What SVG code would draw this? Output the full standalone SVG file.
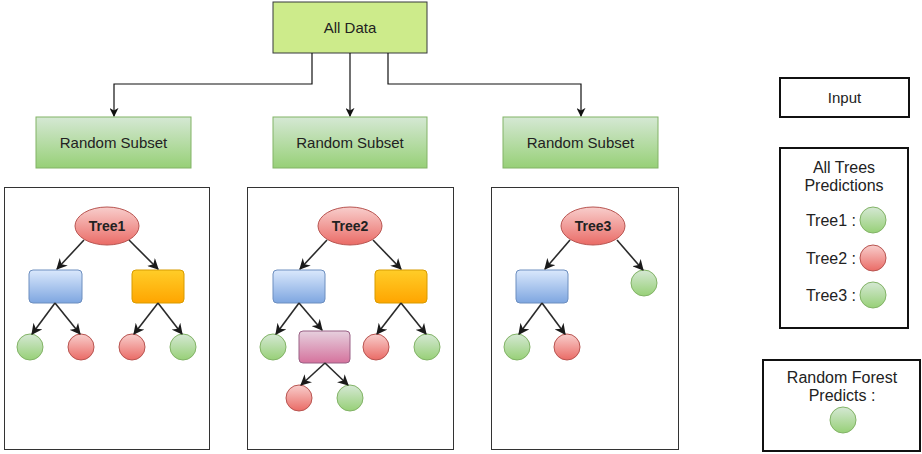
<svg xmlns="http://www.w3.org/2000/svg" width="922" height="454" viewBox="0 0 922 454">
  <defs>
    <linearGradient id="gGreen" x1="0" y1="0" x2="0" y2="1">
      <stop offset="0" stop-color="#d5e8d4"/>
      <stop offset="1" stop-color="#97d077"/>
    </linearGradient>
    <linearGradient id="gRed" x1="0" y1="0" x2="0" y2="1">
      <stop offset="0" stop-color="#f8cecc"/>
      <stop offset="1" stop-color="#ea6b66"/>
    </linearGradient>
    <linearGradient id="gBlue" x1="0" y1="0" x2="0" y2="1">
      <stop offset="0" stop-color="#dae8fc"/>
      <stop offset="1" stop-color="#7ea6e0"/>
    </linearGradient>
    <linearGradient id="gOrange" x1="0" y1="0" x2="0" y2="1">
      <stop offset="0" stop-color="#ffcd28"/>
      <stop offset="1" stop-color="#ffa500"/>
    </linearGradient>
    <linearGradient id="gPink" x1="0" y1="0" x2="0" y2="1">
      <stop offset="0" stop-color="#e6d0de"/>
      <stop offset="1" stop-color="#d5739d"/>
    </linearGradient>
    <marker id="arrow" viewBox="0 0 10 10" refX="9" refY="5" markerWidth="9" markerHeight="9" markerUnits="userSpaceOnUse" orient="auto">
      <path d="M0,0 L10,5 L0,10 L3,5 Z" fill="#111"/>
    </marker>
    <marker id="arrowTree" viewBox="0 0 10 10" refX="9" refY="5" markerWidth="11" markerHeight="11" markerUnits="userSpaceOnUse" orient="auto">
      <path d="M0,0 L10,5 L0,10 L3,5 Z" fill="#1a1a1a"/>
    </marker>
  </defs>
  <style>
    text { font-family: "Liberation Sans", Arial, sans-serif; fill: #222; }
    .lbl { font-size: 15px; text-anchor: middle; }
    .leg { font-size: 16px; }
    .bold { font-size: 14px; font-weight: bold; text-anchor: middle; }
    .subset { fill: url(#gGreen); stroke: #82b366; stroke-width: 1; }
    .frame { fill: #fff; stroke: #333; stroke-width: 1; }
    .legbox { fill: #fff; stroke: #111; stroke-width: 2; }
    .root { fill: url(#gRed); stroke: #b85450; stroke-width: 1; }
    .blue { fill: url(#gBlue); stroke: #6c8ebf; stroke-width: 1; }
    .orange { fill: url(#gOrange); stroke: #d79b00; stroke-width: 1; }
    .pink { fill: url(#gPink); stroke: #996185; stroke-width: 1; }
    .leafG { fill: url(#gGreen); stroke: #82b366; stroke-width: 1; }
    .leafR { fill: url(#gRed); stroke: #b85450; stroke-width: 1; }
    .conn { fill: none; stroke: #111; stroke-width: 1.2; marker-end: url(#arrow); }
    .edge { fill: none; stroke: #2a2a2a; stroke-width: 1.6; marker-end: url(#arrowTree); }
  </style>

  <rect width="922" height="454" fill="#fff"/>

  <!-- source data -->
  <g id="all-data">
    <rect x="273" y="2" width="154" height="51" fill="#cdeb8b" stroke="#36393d" stroke-width="1"/>
    <text class="lbl" x="350" y="33">All Data</text>
  </g>

  <!-- bootstrap subsets -->
  <g id="subset-1">
    <rect class="subset" x="36" y="117" width="155" height="51"/>
    <text class="lbl" x="113.5" y="148">Random Subset</text>
  </g>
  <g id="subset-2">
    <rect class="subset" x="273" y="117" width="154" height="51"/>
    <text class="lbl" x="350" y="148">Random Subset</text>
  </g>
  <g id="subset-3">
    <rect class="subset" x="503" y="117" width="155" height="51"/>
    <text class="lbl" x="580.5" y="148">Random Subset</text>
  </g>

  <!-- tree frames -->
  <g id="frame-1"><rect class="frame" x="4.5" y="187.5" width="205" height="262"/></g>
  <g id="frame-2"><rect class="frame" x="247.5" y="187.5" width="206" height="262"/></g>
  <g id="frame-3"><rect class="frame" x="491.5" y="187.5" width="187" height="262"/></g>

  <!-- tree 1 -->
  <g id="tree1-root">
    <ellipse class="root" cx="107" cy="226" rx="32" ry="19"/>
    <text class="bold" x="107" y="231">Tree1</text>
  </g>
  <g id="tree1-split-a"><rect class="blue" x="29" y="270" width="53" height="33" rx="4"/></g>
  <g id="tree1-split-b"><rect class="orange" x="132" y="270" width="52" height="33" rx="4"/></g>
  <g id="tree1-leaf-1"><circle class="leafG" cx="30" cy="347" r="13"/></g>
  <g id="tree1-leaf-2"><circle class="leafR" cx="81" cy="347" r="13"/></g>
  <g id="tree1-leaf-3"><circle class="leafR" cx="132" cy="347" r="13"/></g>
  <g id="tree1-leaf-4"><circle class="leafG" cx="183" cy="347" r="13"/></g>

  <!-- tree 2 -->
  <g id="tree2-root">
    <ellipse class="root" cx="350" cy="226" rx="32" ry="19"/>
    <text class="bold" x="350" y="231">Tree2</text>
  </g>
  <g id="tree2-split-a"><rect class="blue" x="273" y="270" width="52" height="33" rx="4"/></g>
  <g id="tree2-split-b"><rect class="orange" x="375" y="270" width="52" height="33" rx="4"/></g>
  <g id="tree2-split-c"><rect class="pink" x="299" y="331" width="51" height="32" rx="4"/></g>
  <g id="tree2-leaf-1"><circle class="leafG" cx="273" cy="347" r="13"/></g>
  <g id="tree2-leaf-2"><circle class="leafR" cx="376" cy="347" r="13"/></g>
  <g id="tree2-leaf-3"><circle class="leafG" cx="427" cy="347" r="13"/></g>
  <g id="tree2-leaf-4"><circle class="leafR" cx="299" cy="398" r="13"/></g>
  <g id="tree2-leaf-5"><circle class="leafG" cx="350" cy="398" r="13"/></g>

  <!-- tree 3 -->
  <g id="tree3-root">
    <ellipse class="root" cx="593" cy="226" rx="32" ry="19"/>
    <text class="bold" x="593" y="231">Tree3</text>
  </g>
  <g id="tree3-split-a"><rect class="blue" x="516" y="270" width="52" height="33" rx="4"/></g>
  <g id="tree3-leaf-1"><circle class="leafG" cx="644" cy="283" r="13"/></g>
  <g id="tree3-leaf-2"><circle class="leafG" cx="517" cy="347" r="13"/></g>
  <g id="tree3-leaf-3"><circle class="leafR" cx="567" cy="347" r="13"/></g>

  <!-- legend -->
  <g id="legend-input">
    <rect class="legbox" x="780" y="78" width="129" height="39"/>
    <text class="lbl" x="844.5" y="103">Input</text>
  </g>
  <g id="legend-predictions">
    <rect class="legbox" x="780" y="148" width="128" height="180"/>
    <text class="leg" x="844" y="173" text-anchor="middle">All Trees</text>
    <text class="leg" x="844" y="191" text-anchor="middle">Predictions</text>
    <text class="leg" x="856" y="226" text-anchor="end">Tree1 :</text>
    <circle class="leafG" cx="873" cy="220" r="13"/>
    <text class="leg" x="856" y="264" text-anchor="end">Tree2 :</text>
    <circle class="leafR" cx="873" cy="258" r="13"/>
    <text class="leg" x="856" y="301" text-anchor="end">Tree3 :</text>
    <circle class="leafG" cx="873" cy="295" r="13"/>
  </g>
  <g id="legend-forest">
    <rect class="legbox" x="763" y="360" width="157" height="91"/>
    <text class="leg" x="842" y="383" text-anchor="middle">Random Forest</text>
    <text class="leg" x="842" y="401" text-anchor="middle">Predicts :</text>
    <circle class="leafG" cx="843" cy="420" r="13"/>
  </g>

  <!-- connectors -->
  <g id="connectors">
    <path class="conn" d="M312,53 V84 H114 V116"/>
    <path class="conn" d="M350,53 V116"/>
    <path class="conn" d="M388,53 V84 H581 V116"/>

    <path class="edge" d="M84,240 L57,269"/>
    <path class="edge" d="M129,240 L158,269"/>
    <path class="edge" d="M55,303 L32,334"/>
    <path class="edge" d="M55,303 L80,334"/>
    <path class="edge" d="M158,303 L134,334"/>
    <path class="edge" d="M158,303 L182,334"/>

    <path class="edge" d="M327,240 L300,269"/>
    <path class="edge" d="M373,240 L401,269"/>
    <path class="edge" d="M299,303 L276,334"/>
    <path class="edge" d="M299,303 L322,330"/>
    <path class="edge" d="M401,303 L377,334"/>
    <path class="edge" d="M401,303 L426,334"/>
    <path class="edge" d="M325,363 L301,385"/>
    <path class="edge" d="M325,363 L348,385"/>

    <path class="edge" d="M570,240 L545,269"/>
    <path class="edge" d="M617,240 L643,270"/>
    <path class="edge" d="M542,303 L519,334"/>
    <path class="edge" d="M542,303 L565,334"/>
  </g>
</svg>
